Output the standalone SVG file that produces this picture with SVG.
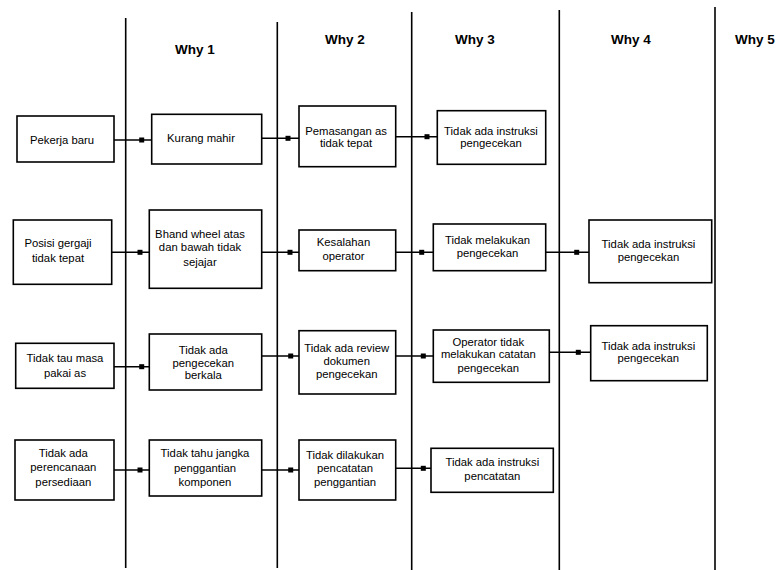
<svg xmlns="http://www.w3.org/2000/svg" width="777" height="570" viewBox="0 0 777 570">
<style>
  .box rect { fill: #fff; stroke: #000; stroke-width: 1.6; }
  .box text { font-family: "Liberation Sans", Arial, sans-serif; font-size: 11.3px; fill: #000; text-anchor: middle; }
  .hdr { font-family: "Liberation Sans", Arial, sans-serif; font-size: 13.5px; font-weight: bold; fill: #000; }
  .lane { stroke: #000; stroke-width: 1.6; }
  .conn { fill: none; stroke: #000; stroke-width: 1.4; marker-mid: url(#sq); }
</style>
<defs>
  <marker id="sq" markerUnits="userSpaceOnUse" markerWidth="6" markerHeight="6" refX="3" refY="3" orient="0">
    <rect x="0.5" y="0.5" width="5" height="5" fill="#000"/>
  </marker>
</defs>
<rect width="777" height="570" fill="#fff"/>

<g id="lanes">
  <line class="lane" x1="125.7" y1="18" x2="125.7" y2="568"/>
  <line class="lane" x1="277.3" y1="22" x2="277.3" y2="568"/>
  <line class="lane" x1="411.7" y1="12" x2="411.7" y2="570"/>
  <line class="lane" x1="559.3" y1="10" x2="559.3" y2="570"/>
  <line class="lane" x1="715" y1="7" x2="715" y2="570"/>
</g>

<g id="headers">
  <text class="hdr" x="195" y="54" text-anchor="middle">Why 1</text>
  <text class="hdr" x="345" y="44" text-anchor="middle">Why 2</text>
  <text class="hdr" x="475" y="44" text-anchor="middle">Why 3</text>
  <text class="hdr" x="631" y="44" text-anchor="middle">Why 4</text>
  <text class="hdr" x="735" y="44">Why 5</text>
</g>

<g id="connectors">
  <polyline class="conn" points="114,140 141.7,140 151.7,140"/>
  <polyline class="conn" points="261.7,138.3 288,138.3 299,138.3"/>
  <polyline class="conn" points="395.7,136.7 427,136.7 437.3,136.7"/>

  <polyline class="conn" points="111.7,252.3 140,252.3 149.3,252.3"/>
  <polyline class="conn" points="261.7,252.3 290,252.3 299,252.3"/>
  <polyline class="conn" points="395.7,252.3 421.7,252.3 433.3,252.3"/>
  <polyline class="conn" points="545.7,252.3 576.7,252.3 589,252.3"/>

  <polyline class="conn" points="114,366.7 141.7,366.7 149.3,366.7"/>
  <polyline class="conn" points="261.7,356 290.7,356 299,356"/>
  <polyline class="conn" points="395.7,356 423.3,356 433.3,356"/>
  <polyline class="conn" points="549.3,352.3 578.3,352.3 590.7,352.3"/>

  <polyline class="conn" points="114,470 140,470 149.3,470"/>
  <polyline class="conn" points="261.7,470 290.7,470 299,470"/>
  <polyline class="conn" points="395.7,468.3 423.3,468.3 431,468.3"/>
</g>

<g id="a1" class="box"><rect x="17" y="116" width="97" height="46"/><text x="62" y="144">Pekerja baru</text></g>
<g id="b1" class="box"><rect x="151.7" y="114.3" width="110" height="49.7"/><text x="201" y="141.7">Kurang mahir</text></g>
<g id="c1" class="box"><rect x="299" y="106" width="96.7" height="60.7"/><text x="346" y="134.7">Pemasangan as</text><text x="346" y="146.7">tidak tepat</text></g>
<g id="d1" class="box"><rect x="437.3" y="110.7" width="108.4" height="53.6"/><text x="491" y="134.7">Tidak ada instruksi</text><text x="491" y="147.3">pengecekan</text></g>

<g id="a2" class="box"><rect x="13.3" y="220" width="98.4" height="64.3"/><text x="58" y="246.7">Posisi gergaji</text><text x="58" y="262.3">tidak tepat</text></g>
<g id="b2" class="box"><rect x="149.3" y="210" width="112.4" height="78.3"/><text x="200" y="238">Bhand wheel atas</text><text x="200" y="251.3">dan bawah tidak</text><text x="200" y="265.7">sejajar</text></g>
<g id="c2" class="box"><rect x="299" y="230" width="96.7" height="40.7"/><text x="343.5" y="246.3">Kesalahan</text><text x="343.5" y="260">operator</text></g>
<g id="d2" class="box"><rect x="433.3" y="224" width="112.4" height="46.7"/><text x="487.5" y="244">Tidak melakukan</text><text x="487.5" y="257.3">pengecekan</text></g>
<g id="e2" class="box"><rect x="589" y="220" width="122.7" height="62.7"/><text x="648.5" y="248">Tidak ada instruksi</text><text x="648.5" y="260.7">pengecekan</text></g>

<g id="a3" class="box"><rect x="15.7" y="343.3" width="98.3" height="45"/><text x="65" y="362.3">Tidak tau masa</text><text x="65" y="376.7">pakai as</text></g>
<g id="b3" class="box"><rect x="149.3" y="334" width="112.4" height="56"/><text x="203.3" y="354">Tidak ada</text><text x="203.3" y="366.7">pengecekan</text><text x="203.3" y="379">berkala</text></g>
<g id="c3" class="box"><rect x="299" y="330.7" width="96.7" height="63.3"/><text x="346.7" y="352.3">Tidak ada review</text><text x="346.7" y="364.7">dokumen</text><text x="346.7" y="378">pengecekan</text></g>
<g id="d3" class="box"><rect x="433.3" y="330" width="116" height="52.3"/><text x="488.3" y="346.3">Operator tidak</text><text x="488.3" y="358">melakukan catatan</text><text x="488.3" y="372.3">pengecekan</text></g>
<g id="e3" class="box"><rect x="590.7" y="325.7" width="116.6" height="55"/><text x="648.3" y="349.7">Tidak ada instruksi</text><text x="648.3" y="362.3">pengecekan</text></g>

<g id="a4" class="box"><rect x="15" y="440" width="99" height="60"/><text x="63.3" y="457.3">Tidak ada</text><text x="63.3" y="471.3">perencanaan</text><text x="63.3" y="485.7">persediaan</text></g>
<g id="b4" class="box"><rect x="149.3" y="440" width="112.4" height="56"/><text x="205" y="457.3">Tidak tahu jangka</text><text x="205" y="471.7">penggantian</text><text x="205" y="485.7">komponen</text></g>
<g id="c4" class="box"><rect x="299" y="440" width="96.7" height="60"/><text x="345" y="459">Tidak dilakukan</text><text x="345" y="472.3">pencatatan</text><text x="345" y="486.3">penggantian</text></g>
<g id="d4" class="box"><rect x="431" y="448.3" width="122.3" height="44"/><text x="492.3" y="465.7">Tidak ada instruksi</text><text x="492.3" y="480">pencatatan</text></g>
</svg>
